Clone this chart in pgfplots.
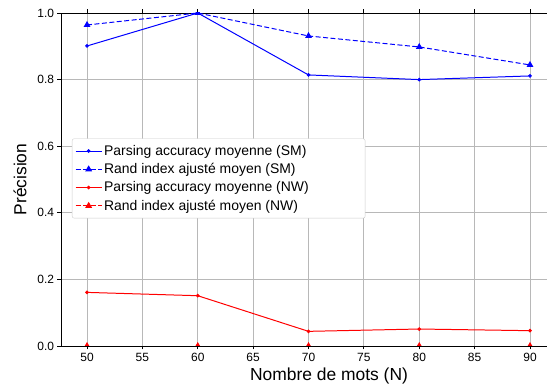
\documentclass[border=0pt]{standalone}
\usepackage{fontspec}
\setmainfont{Liberation Sans}
\usepackage{pgfplots}
\pgfplotsset{compat=1.18}
\begin{document}
\begin{tikzpicture}
\begin{axis}[
  name=ax,
  scale only axis,
  width=536bp, height=333bp,
  xmin=47.65, xmax=96.05,
  ymin=0, ymax=1,
  xtick={50,55,...,90},
  ytick={0,0.2,0.4,0.6,0.8,1.0},
  yticklabel style={/pgf/number format/.cd,fixed,fixed zerofill,precision=1},
  /pgf/number format/assume math mode=true,
  tick label style={font=\fontsize{12}{14}\selectfont},
  label style={font=\fontsize{17.5}{20}\selectfont},
  xlabel={Nombre de mots (N)},
  ylabel={Précision},
  ylabel style={yshift=4bp},
  grid=major,
  major grid style={color=black!28, line width=0.8pt},
  tick align=outside,
  major tick length=3.5bp,
  tick style={black, line width=0.8pt},
  axis line style={line width=0.8pt},
  clip marker paths=true,
  legend image code/.code={\draw[mark repeat=2,mark phase=2,#1] plot coordinates {(0bp,0bp) (13bp,0bp) (26bp,0bp)};},
  legend style={at={(axis description cs:0.0205,0.623)}, anchor=north west,
    font=\fontsize{14}{16}\selectfont, draw=black!20, fill=white, rounded corners=2pt,
    row sep=2.6pt, inner xsep=3pt, inner ysep=4.5pt},
  legend cell align=left,
]
\addplot[blue, line width=1pt, mark=*, mark size=1.3pt] coordinates {(50,0.901) (60,1.0) (70,0.814) (80,0.800) (90,0.811)};
\addlegendentry{\makebox[256bp][l]{Parsing accuracy moyenne (SM)}}
\addplot[blue, dash pattern=on 5pt off 2.5pt, line width=1pt, mark=triangle*, mark size=3pt, mark options={solid}] coordinates {(50,0.964) (60,1.0) (70,0.931) (80,0.898) (90,0.844)};
\addlegendentry{Rand index ajusté moyen (SM)}
\addplot[red, line width=1pt, mark=*, mark size=1.3pt] coordinates {(50,0.161) (60,0.151) (70,0.044) (80,0.051) (90,0.046)};
\addlegendentry{Parsing accuracy moyenne (NW)}
\addplot[red, dash pattern=on 5pt off 2.5pt, line width=1pt, mark=triangle*, mark size=3pt, mark options={solid}] coordinates {(50,0) (60,0) (70,0) (80,0) (90,0)};
\addlegendentry{Rand index ajusté moyen (NW)}
\end{axis}
\pgfresetboundingbox
\useasboundingbox ([shift={(-61bp,-46bp)}]ax.south west) rectangle ([shift={(486bp,13bp)}]ax.north west);
\end{tikzpicture}
\end{document}
